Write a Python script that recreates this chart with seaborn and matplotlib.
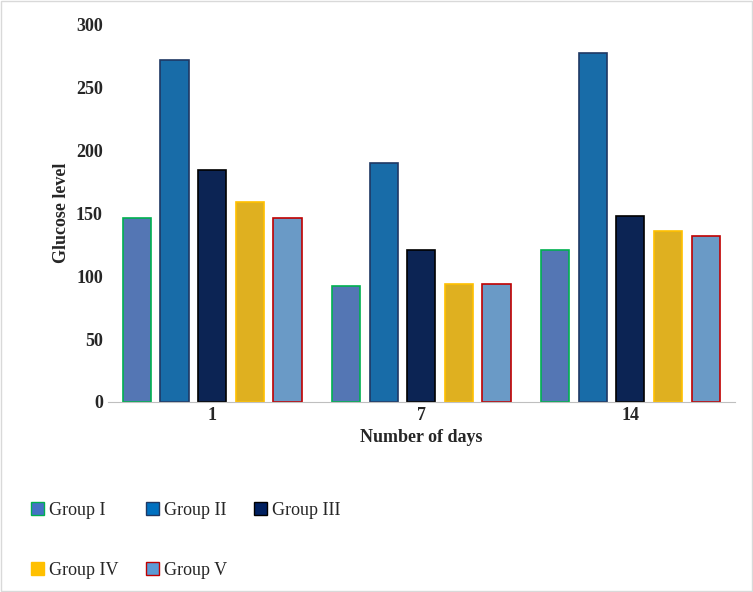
import pandas as pd
import matplotlib.pyplot as plt
import seaborn as sns
from matplotlib.patches import Patch

days = ['1', '7', '14']
groups = ['Group I', 'Group II', 'Group III', 'Group IV', 'Group V']
group_1 = [146, 92, 121]
group_2 = [272, 190, 277]
group_3 = [184, 121, 148]
group_4 = [159, 94, 136]
group_5 = [146, 94, 132]

fills = ['#4472C4', '#0070C0', '#002060', '#FFC000', '#5B9BD5']
edges = ['#00B050', '#1F3864', '#000000', '#FFC000', '#C00000']

rows = []
for g, vals in zip(groups, [group_1, group_2, group_3, group_4, group_5]):
    for d, v in zip(days, vals):
        rows.append({'day': d, 'group': g, 'value': v})
df = pd.DataFrame(rows)

sns.set_style('white')
plt.rcParams['font.family'] = ['Liberation Serif', 'DejaVu Serif']

fig = plt.figure(figsize=(7.53, 5.92), dpi=100)
ax = fig.add_axes([0.143, 0.321, 0.833, 0.638])
sns.barplot(data=df, x='day', y='value', hue='group', order=days, hue_order=groups,
            palette=fills, gap=0.25, width=0.9, ax=ax, legend=False)

for i, cont in enumerate(ax.containers):
    for p in cont:
        p.set_edgecolor(edges[i])
        p.set_linewidth(1.2)

ax.set_ylim(0, 300)
ax.set_yticks(range(0, 301, 50))
ax.set_xlabel('Number of days', fontsize=13, fontweight='bold')
ax.set_ylabel('Glucose level', fontsize=13, fontweight='bold')
ax.tick_params(axis='both', labelsize=13, length=0)
for lab in ax.get_xticklabels() + ax.get_yticklabels():
    lab.set_fontweight('bold')
for s in ['top', 'right', 'left']:
    ax.spines[s].set_visible(False)
ax.spines['bottom'].set_color('#BFBFBF')

handles = [Patch(facecolor=f, edgecolor=e, label=g) for f, e, g in zip(fills, edges, groups)]
order = [0, 3, 1, 4, 2]
fig.legend([handles[i] for i in order], [groups[i] for i in order], ncol=3,
           loc='upper left', bbox_to_anchor=(0.02, 0.18 + 0.0), frameon=False,
           fontsize=13, handlelength=0.7, handleheight=0.7, handletextpad=0.3,
           columnspacing=1.5, labelspacing=2.4)

fig.patches.append(plt.Rectangle((0.001, 0.001), 0.998, 0.998, transform=fig.transFigure,
                                 fill=False, edgecolor='#D9D9D9', linewidth=1))
fig.savefig('out.png', dpi=100)
